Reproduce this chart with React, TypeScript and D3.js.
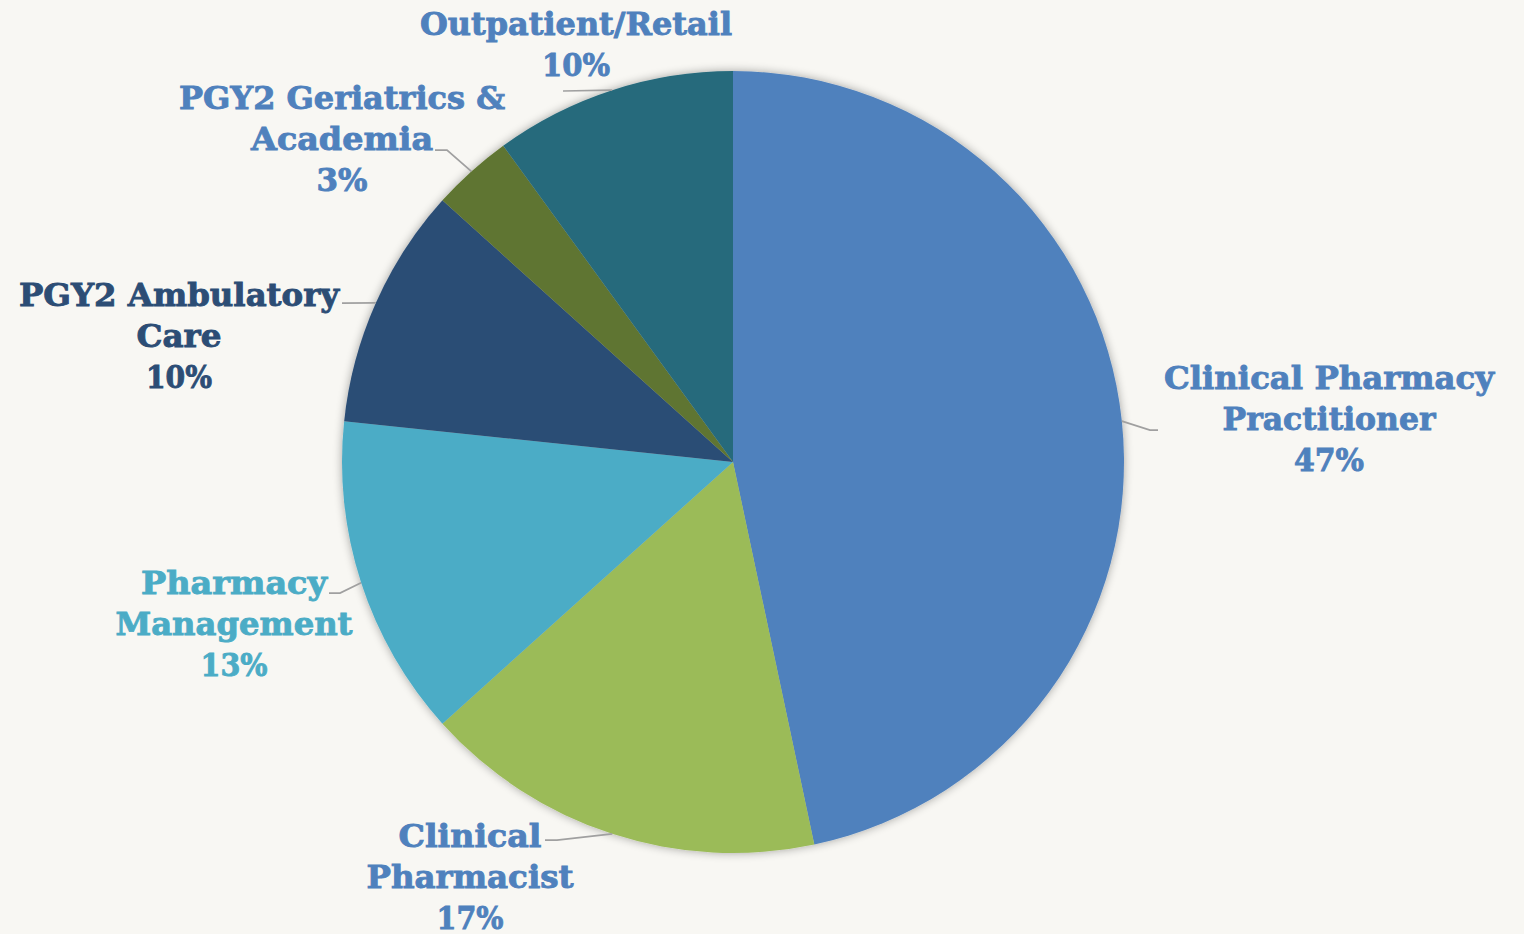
import React from "react";
import * as d3 from "d3";

const categories = [
  "Clinical Pharmacy Practitioner",
  "Clinical Pharmacist",
  "Pharmacy Management",
  "PGY2 Ambulatory Care",
  "PGY2 Geriatrics & Academia",
  "Outpatient/Retail",
];
const values = [14, 5, 4, 3, 1, 3];
const sliceColors = ["#4f81bd", "#9bbb59", "#4bacc6", "#2c4d75", "#5f7530", "#276a7c"];
const labelColors = ["#4f81bd", "#4f81bd", "#4bacc6", "#2c4d75", "#4f81bd", "#4f81bd"];
const labelLines = [
  ["Clinical Pharmacy", "Practitioner"],
  ["Clinical", "Pharmacist"],
  ["Pharmacy", "Management"],
  ["PGY2 Ambulatory", "Care"],
  ["PGY2 Geriatrics &", "Academia"],
  ["Outpatient/Retail"],
];

// layout: label anchor (center x, first baseline y), line widths, leader elbow points
const labelLayout = [
  { x: 1329, y: 389, widths: [330, 213, 70], leader: [[1150, 430], [1158, 430]] },
  { x: 470, y: 847, widths: [143, 207, 67], leader: [[557, 840], [545, 840]] },
  { x: 234, y: 594, widths: [186, 237, 67], leader: [[340, 593], [329, 593]] },
  { x: 179, y: 306, widths: [320, 85, 66], leader: [[342, 303]] },
  { x: 342, y: 109, widths: [326, 182, 51], leader: [[447, 150], [435, 150]] },
  { x: 576, y: 35, widths: [312, 68], leader: [[563, 91]] },
];

const W = 1524;
const H = 934;
const cx = 733;
const cy = 462;
const R = 391;
const LINE_H = 41;

export default function App() {
  const total = d3.sum(values);
  const pie = d3.pie<number>().sort(null).value((d) => d)(values);
  const arc = d3.arc<d3.PieArcDatum<number>>().innerRadius(0).outerRadius(R);

  return (
    <div style={{ position: "fixed", left: 0, top: 0, width: W, height: H }}>
      <svg width={W} height={H} style={{ display: "block", background: "#f8f7f3" }}>
        <defs>
          <filter id="sh" x="-20%" y="-20%" width="140%" height="140%">
            <feGaussianBlur in="SourceAlpha" stdDeviation="5" />
            <feOffset dx="0" dy="0" result="b" />
            <feComponentTransfer>
              <feFuncA type="linear" slope="0.35" />
            </feComponentTransfer>
            <feMerge>
              <feMergeNode />
              <feMergeNode in="SourceGraphic" />
            </feMerge>
          </filter>
        </defs>
        <g transform={`translate(${cx},${cy})`} filter="url(#sh)">
          {pie.map((p, i) => (
            <path key={i} d={arc(p) || ""} fill={sliceColors[i]} />
          ))}
        </g>
        {pie.map((p, i) => {
          const mid = (p.startAngle + p.endAngle) / 2;
          const ax = cx + R * Math.sin(mid);
          const ay = cy - R * Math.cos(mid);
          const pts: [number, number][] = [[ax, ay], ...(labelLayout[i].leader as [number, number][])];
          const line = d3.line()(pts) || "";
          return <path key={"l" + i} d={line} fill="none" stroke="#a0a0a0" strokeWidth={1.75} />;
        })}
        {categories.map((c, i) => {
          const L = labelLayout[i];
          const pct = d3.format(".0%")(values[i] / total);
          const lines = [...labelLines[i], pct];
          return (
            <g key={"t" + c}>
              {lines.map((t, j) => (
                <text
                  key={j}
                  x={L.x}
                  y={L.y + j * LINE_H}
                  textAnchor="middle"
                  fill={labelColors[i]}
                  stroke={labelColors[i]}
                  strokeWidth={0.9}
                  fontFamily="'DejaVu Serif', serif"
                  fontWeight="bold"
                  fontSize={32}
                  textLength={L.widths[j]}
                  lengthAdjust="spacingAndGlyphs"
                >
                  {t}
                </text>
              ))}
            </g>
          );
        })}
      </svg>
    </div>
  );
}
